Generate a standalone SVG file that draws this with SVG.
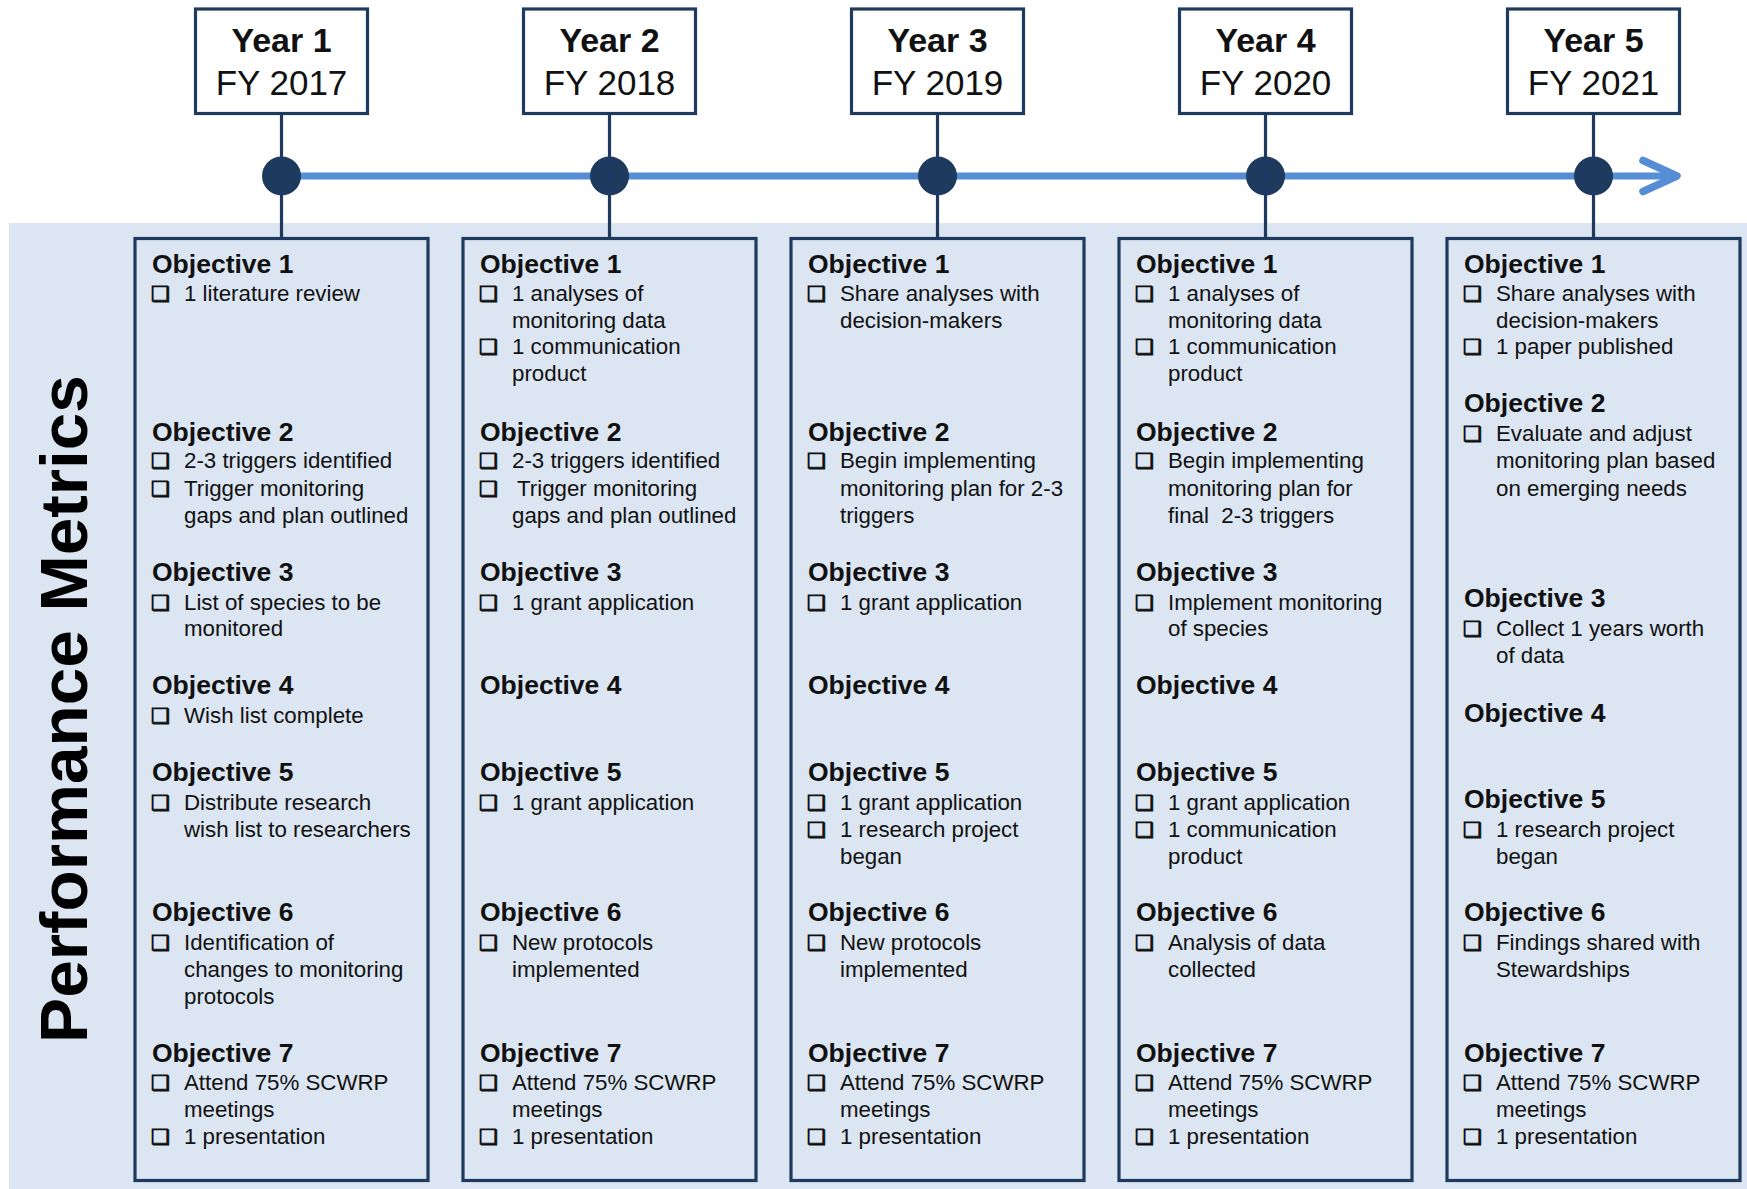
<svg xmlns="http://www.w3.org/2000/svg" width="1747" height="1189" viewBox="0 0 1747 1189">
<style>
.yb{fill:#fff;stroke:#1f3a5f;stroke-width:3.2}
.mb{fill:none;stroke:#1f3a5f;stroke-width:3.2}
.yt{font-family:"Liberation Sans",Arial,sans-serif;font-size:34px;font-weight:bold;fill:#111;text-anchor:middle}
.ft{font-family:"Liberation Sans",Arial,sans-serif;font-size:35px;fill:#111;text-anchor:middle}
.h{font-family:"Liberation Sans",Arial,sans-serif;font-size:26.5px;font-weight:bold;fill:#111}
.t{font-family:"Liberation Sans",Arial,sans-serif;font-size:22.3px;fill:#111}
.b{font-family:"DejaVu Sans",sans-serif;font-size:21px;fill:#111;stroke:#111;stroke-width:0.9}
.vc{stroke:#1f3a5f;stroke-width:3.2;fill:none}
.dot{fill:#1f3a5f}
.pm{font-family:"Liberation Sans",Arial,sans-serif;font-size:67.5px;font-weight:bold;fill:#000;text-anchor:middle}
</style>
<defs>
<marker id="chev" markerUnits="userSpaceOnUse" markerWidth="50" markerHeight="50" refX="40" refY="25" orient="auto" viewBox="0 0 50 50">
<polyline points="6,9.5 40,25 6,40.5" fill="none" stroke="#558ed5" stroke-width="7.5" stroke-linecap="round" stroke-linejoin="round"/>
</marker>
</defs>
<rect x="9" y="223" width="1738" height="966" fill="#dce6f2"/>
<text class="pm" transform="translate(87,709) rotate(-90)">Performance Metrics</text>

<g id="connectors">
<line class="vc" x1="281.5" y1="113" x2="281.5" y2="238"/>
<line class="vc" x1="609.5" y1="113" x2="609.5" y2="238"/>
<line class="vc" x1="937.5" y1="113" x2="937.5" y2="238"/>
<line class="vc" x1="1265.5" y1="113" x2="1265.5" y2="238"/>
<line class="vc" x1="1593.5" y1="113" x2="1593.5" y2="238"/>
<line x1="281.5" y1="176" x2="1677" y2="176" stroke="#558ed5" stroke-width="7" marker-end="url(#chev)"/>
<circle class="dot" cx="281.5" cy="176" r="19.5"/>
<circle class="dot" cx="609.5" cy="176" r="19.5"/>
<circle class="dot" cx="937.5" cy="176" r="19.5"/>
<circle class="dot" cx="1265.5" cy="176" r="19.5"/>
<circle class="dot" cx="1593.5" cy="176" r="19.5"/>
</g>

<g id="year1"><rect class="yb" x="195.5" y="9" width="172" height="104.5"/><text class="yt" x="281.5" y="51.5">Year 1</text><text class="ft" x="281.5" y="95">FY 2017</text></g>
<g id="year2"><rect class="yb" x="523.5" y="9" width="172" height="104.5"/><text class="yt" x="609.5" y="51.5">Year 2</text><text class="ft" x="609.5" y="95">FY 2018</text></g>
<g id="year3"><rect class="yb" x="851.5" y="9" width="172" height="104.5"/><text class="yt" x="937.5" y="51.5">Year 3</text><text class="ft" x="937.5" y="95">FY 2019</text></g>
<g id="year4"><rect class="yb" x="1179.5" y="9" width="172" height="104.5"/><text class="yt" x="1265.5" y="51.5">Year 4</text><text class="ft" x="1265.5" y="95">FY 2020</text></g>
<g id="year5"><rect class="yb" x="1507.5" y="9" width="172" height="104.5"/><text class="yt" x="1593.5" y="51.5">Year 5</text><text class="ft" x="1593.5" y="95">FY 2021</text></g>

<g id="metrics1">
<rect class="mb" x="135" y="238.5" width="293" height="942"/>
<text class="h" x="152" y="273">Objective 1</text>
<text class="b" x="151" y="301">❑</text><text class="t" x="184" y="301">1 literature review</text>
<text class="h" x="152" y="441">Objective 2</text>
<text class="b" x="151" y="468">❑</text><text class="t" x="184" y="468">2-3 triggers identified</text>
<text class="b" x="151" y="496">❑</text><text class="t" x="184" y="496">Trigger monitoring</text>
<text class="t" x="184" y="523">gaps and plan outlined</text>
<text class="h" x="152" y="580.5">Objective 3</text>
<text class="b" x="151" y="609.5">❑</text><text class="t" x="184" y="609.5">List of species to be</text>
<text class="t" x="184" y="636">monitored</text>
<text class="h" x="152" y="694">Objective 4</text>
<text class="b" x="151" y="723">❑</text><text class="t" x="184" y="723">Wish list complete</text>
<text class="h" x="152" y="781">Objective 5</text>
<text class="b" x="151" y="810">❑</text><text class="t" x="184" y="810">Distribute research</text>
<text class="t" x="184" y="837">wish list to researchers</text>
<text class="h" x="152" y="921">Objective 6</text>
<text class="b" x="151" y="950">❑</text><text class="t" x="184" y="950">Identification of</text>
<text class="t" x="184" y="977">changes to monitoring</text>
<text class="t" x="184" y="1004">protocols</text>
<text class="h" x="152" y="1062">Objective 7</text>
<text class="b" x="151" y="1090">❑</text><text class="t" x="184" y="1090">Attend 75% SCWRP</text>
<text class="t" x="184" y="1117">meetings</text>
<text class="b" x="151" y="1144">❑</text><text class="t" x="184" y="1144">1 presentation</text>
</g>

<g id="metrics2">
<rect class="mb" x="463" y="238.5" width="293" height="942"/>
<text class="h" x="480" y="273">Objective 1</text>
<text class="b" x="479" y="301">❑</text><text class="t" x="512" y="301">1 analyses of</text>
<text class="t" x="512" y="328">monitoring data</text>
<text class="b" x="479" y="354">❑</text><text class="t" x="512" y="354">1 communication</text>
<text class="t" x="512" y="381">product</text>
<text class="h" x="480" y="441">Objective 2</text>
<text class="b" x="479" y="468">❑</text><text class="t" x="512" y="468">2-3 triggers identified</text>
<text class="b" x="479" y="496">❑</text><text class="t" x="517" y="496">Trigger monitoring</text>
<text class="t" x="512" y="523">gaps and plan outlined</text>
<text class="h" x="480" y="580.5">Objective 3</text>
<text class="b" x="479" y="609.5">❑</text><text class="t" x="512" y="609.5">1 grant application</text>
<text class="h" x="480" y="694">Objective 4</text>
<text class="h" x="480" y="781">Objective 5</text>
<text class="b" x="479" y="810">❑</text><text class="t" x="512" y="810">1 grant application</text>
<text class="h" x="480" y="921">Objective 6</text>
<text class="b" x="479" y="950">❑</text><text class="t" x="512" y="950">New protocols</text>
<text class="t" x="512" y="977">implemented</text>
<text class="h" x="480" y="1062">Objective 7</text>
<text class="b" x="479" y="1090">❑</text><text class="t" x="512" y="1090">Attend 75% SCWRP</text>
<text class="t" x="512" y="1117">meetings</text>
<text class="b" x="479" y="1144">❑</text><text class="t" x="512" y="1144">1 presentation</text>
</g>

<g id="metrics3">
<rect class="mb" x="791" y="238.5" width="293" height="942"/>
<text class="h" x="808" y="273">Objective 1</text>
<text class="b" x="807" y="301">❑</text><text class="t" x="840" y="301">Share analyses with</text>
<text class="t" x="840" y="328">decision-makers</text>
<text class="h" x="808" y="441">Objective 2</text>
<text class="b" x="807" y="468">❑</text><text class="t" x="840" y="468">Begin implementing</text>
<text class="t" x="840" y="496">monitoring plan for 2-3</text>
<text class="t" x="840" y="523">triggers</text>
<text class="h" x="808" y="580.5">Objective 3</text>
<text class="b" x="807" y="609.5">❑</text><text class="t" x="840" y="609.5">1 grant application</text>
<text class="h" x="808" y="694">Objective 4</text>
<text class="h" x="808" y="781">Objective 5</text>
<text class="b" x="807" y="810">❑</text><text class="t" x="840" y="810">1 grant application</text>
<text class="b" x="807" y="837">❑</text><text class="t" x="840" y="837">1 research project</text>
<text class="t" x="840" y="863.5">began</text>
<text class="h" x="808" y="921">Objective 6</text>
<text class="b" x="807" y="950">❑</text><text class="t" x="840" y="950">New protocols</text>
<text class="t" x="840" y="977">implemented</text>
<text class="h" x="808" y="1062">Objective 7</text>
<text class="b" x="807" y="1090">❑</text><text class="t" x="840" y="1090">Attend 75% SCWRP</text>
<text class="t" x="840" y="1117">meetings</text>
<text class="b" x="807" y="1144">❑</text><text class="t" x="840" y="1144">1 presentation</text>
</g>

<g id="metrics4">
<rect class="mb" x="1119" y="238.5" width="293" height="942"/>
<text class="h" x="1136" y="273">Objective 1</text>
<text class="b" x="1135" y="301">❑</text><text class="t" x="1168" y="301">1 analyses of</text>
<text class="t" x="1168" y="328">monitoring data</text>
<text class="b" x="1135" y="354">❑</text><text class="t" x="1168" y="354">1 communication</text>
<text class="t" x="1168" y="381">product</text>
<text class="h" x="1136" y="441">Objective 2</text>
<text class="b" x="1135" y="468">❑</text><text class="t" x="1168" y="468">Begin implementing</text>
<text class="t" x="1168" y="496">monitoring plan for</text>
<text class="t" x="1168" y="523">final&#160; 2-3 triggers</text>
<text class="h" x="1136" y="580.5">Objective 3</text>
<text class="b" x="1135" y="609.5">❑</text><text class="t" x="1168" y="609.5">Implement monitoring</text>
<text class="t" x="1168" y="636">of species</text>
<text class="h" x="1136" y="694">Objective 4</text>
<text class="h" x="1136" y="781">Objective 5</text>
<text class="b" x="1135" y="810">❑</text><text class="t" x="1168" y="810">1 grant application</text>
<text class="b" x="1135" y="837">❑</text><text class="t" x="1168" y="837">1 communication</text>
<text class="t" x="1168" y="863.5">product</text>
<text class="h" x="1136" y="921">Objective 6</text>
<text class="b" x="1135" y="950">❑</text><text class="t" x="1168" y="950">Analysis of data</text>
<text class="t" x="1168" y="977">collected</text>
<text class="h" x="1136" y="1062">Objective 7</text>
<text class="b" x="1135" y="1090">❑</text><text class="t" x="1168" y="1090">Attend 75% SCWRP</text>
<text class="t" x="1168" y="1117">meetings</text>
<text class="b" x="1135" y="1144">❑</text><text class="t" x="1168" y="1144">1 presentation</text>
</g>

<g id="metrics5">
<rect class="mb" x="1447" y="238.5" width="293" height="942"/>
<text class="h" x="1464" y="273">Objective 1</text>
<text class="b" x="1463" y="301">❑</text><text class="t" x="1496" y="301">Share analyses with</text>
<text class="t" x="1496" y="328">decision-makers</text>
<text class="b" x="1463" y="354">❑</text><text class="t" x="1496" y="354">1 paper published</text>
<text class="h" x="1464" y="412">Objective 2</text>
<text class="b" x="1463" y="441">❑</text><text class="t" x="1496" y="441">Evaluate and adjust</text>
<text class="t" x="1496" y="468">monitoring plan based</text>
<text class="t" x="1496" y="496">on emerging needs</text>
<text class="h" x="1464" y="607">Objective 3</text>
<text class="b" x="1463" y="636">❑</text><text class="t" x="1496" y="636">Collect 1 years worth</text>
<text class="t" x="1496" y="663">of data</text>
<text class="h" x="1464" y="722">Objective 4</text>
<text class="h" x="1464" y="808">Objective 5</text>
<text class="b" x="1463" y="837">❑</text><text class="t" x="1496" y="837">1 research project</text>
<text class="t" x="1496" y="863.5">began</text>
<text class="h" x="1464" y="921">Objective 6</text>
<text class="b" x="1463" y="950">❑</text><text class="t" x="1496" y="950">Findings shared with</text>
<text class="t" x="1496" y="977">Stewardships</text>
<text class="h" x="1464" y="1062">Objective 7</text>
<text class="b" x="1463" y="1090">❑</text><text class="t" x="1496" y="1090">Attend 75% SCWRP</text>
<text class="t" x="1496" y="1117">meetings</text>
<text class="b" x="1463" y="1144">❑</text><text class="t" x="1496" y="1144">1 presentation</text>
</g>
</svg>
